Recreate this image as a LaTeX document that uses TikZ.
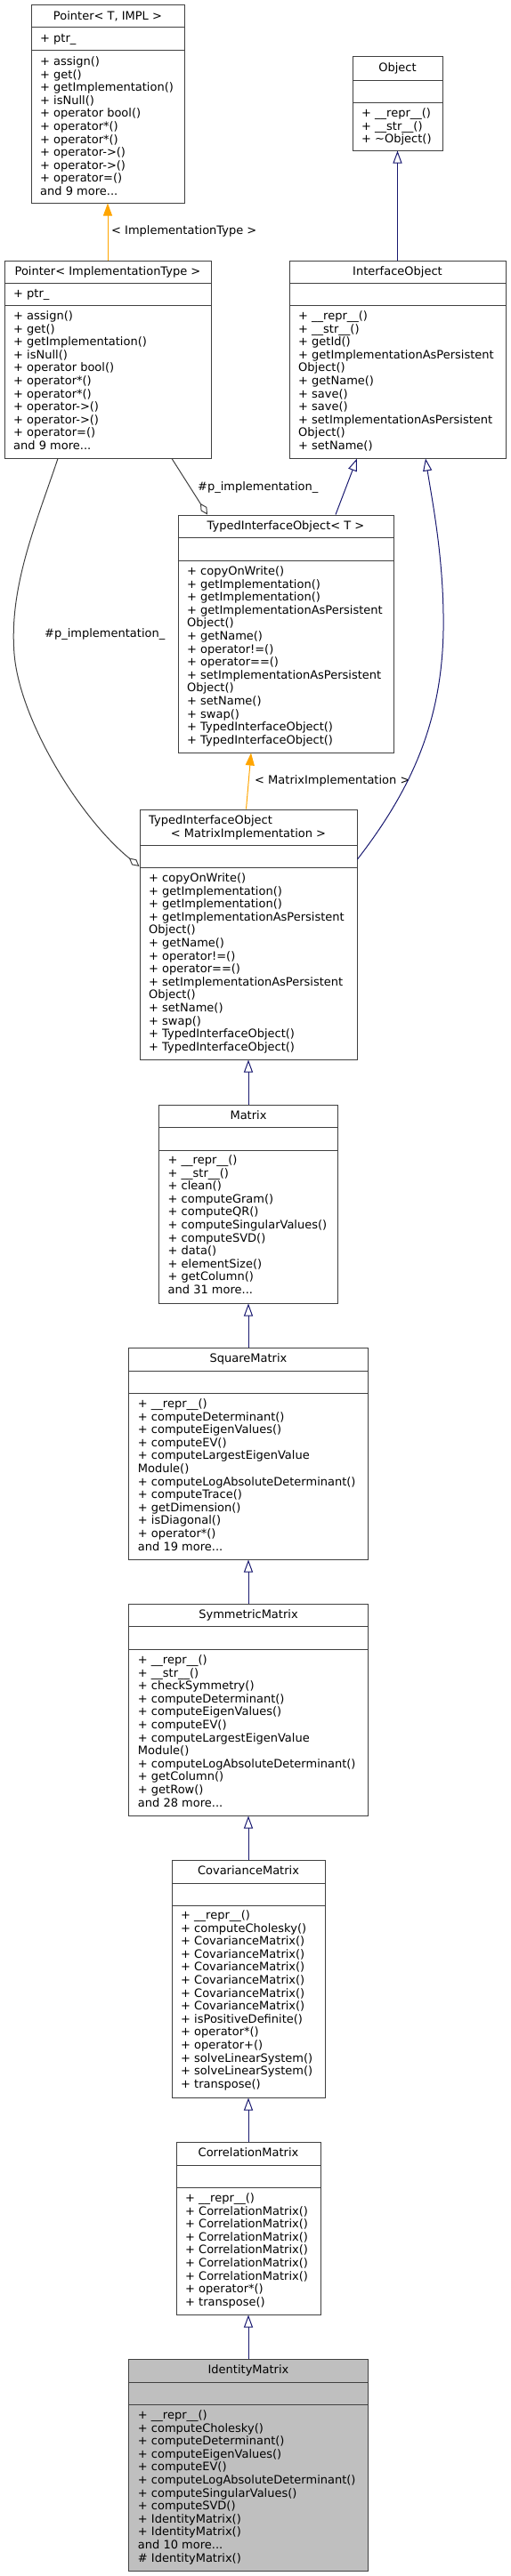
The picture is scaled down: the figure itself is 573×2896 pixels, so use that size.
\documentclass[tikz,border=0pt]{standalone}
\usepackage{fontspec}
\setmainfont{DejaVu Sans}
\usetikzlibrary{arrows.meta}
\definecolor{edgeblue}{HTML}{191970}
\definecolor{edgegray}{HTML}{404040}
\definecolor{boxgray}{HTML}{BFBFBF}
\definecolor{tmplorange}{HTML}{FFA500}
\tikzset{
  classbox/.style={draw=edgegray, line width=1pt, inner sep=0pt, fill=white},
  sepline/.style={draw=edgegray, line width=1pt},
  title/.style={anchor=base, inner sep=0pt},
  member/.style={anchor=base west, inner sep=0pt},
  inherit/.style={draw=edgeblue, line width=1pt, -{Triangle[open, length=14pt, width=10pt]}},
  template/.style={draw=tmplorange, line width=1pt, -{Triangle[length=14pt, width=10pt]}},
  aggr/.style={draw=edgegray, line width=1pt, -{Diamond[open, length=15pt, width=8pt]}},
  edgelabel/.style={anchor=base west, inner sep=0pt}
}
\begin{document}
\begin{tikzpicture}
    [x=1pt, y=-1pt, font=\fontsize{13}{14.6}\selectfont]
    \useasboundingbox (0,0) rectangle (573,2896);
    % Pointer< T, IMPL >
    \node[classbox, minimum width=172, minimum height=222] (ptrT) at (121,117) {};
    \draw[sepline] (ptrT.west |- 0,31) -- (ptrT.east |- 0,31)
      (ptrT.west |- 0,57) -- (ptrT.east |- 0,57);
    \node[title] (ptrT-title) at (121,22.5) {Pointer< T, IMPL >};
    \node[member] (ptrT-attr) at (45,47.5) {+ ptr\_};
    \foreach \m [count=\i from 0] in {+ assign(), + get(), + getImplementation(),
        + isNull(), + operator bool(), + operator*(), + operator*(), + operator->(),
        + operator->(), + operator=(), and 9 more.{}.{}.}
      \node[member] (ptrT-\i) at (45,73.5+14.6*\i) {\m};
    % Pointer< ImplementationType >
    \node[classbox, minimum width=232, minimum height=222] (ptrImpl) at (121,404) {};
    \draw[sepline] (ptrImpl.west |- 0,318) -- (ptrImpl.east |- 0,318)
      (ptrImpl.west |- 0,343) -- (ptrImpl.east |- 0,343);
    \node[title] (ptrImpl-title) at (121,309.5) {Pointer< ImplementationType >};
    \node[member] (ptrImpl-attr) at (15,334.5) {+ ptr\_};
    \foreach \m [count=\i from 0] in {+ assign(), + get(), + getImplementation(),
        + isNull(), + operator bool(), + operator*(), + operator*(), + operator->(),
        + operator->(), + operator=(), and 9 more.{}.{}.}
      \node[member] (ptrImpl-\i) at (15,359.5+14.6*\i) {\m};
    % Object
    \node[classbox, minimum width=101, minimum height=105] (object) at (446.5,116.5) {};
    \draw[sepline] (object.west |- 0,90) -- (object.east |- 0,90)
      (object.west |- 0,115) -- (object.east |- 0,115);
    \node[title] (object-title) at (446.5,80.5) {Object};
    \foreach \m [count=\i from 0] in {+ \_\_repr\_\_(), + \_\_str\_\_(), + \textasciitilde Object()}
      \node[member] (object-\i) at (406,131.5+14.6*\i) {\m};
    % InterfaceObject
    \node[classbox, minimum width=243, minimum height=222] (iface) at (446.5,404) {};
    \draw[sepline] (iface.west |- 0,318) -- (iface.east |- 0,318)
      (iface.west |- 0,343) -- (iface.east |- 0,343);
    \node[title] (iface-title) at (446.5,309.5) {InterfaceObject};
    \foreach \m [count=\i from 0] in {+ \_\_repr\_\_(), + \_\_str\_\_(), + getId(),
        + getImplementationAsPersistent, Object(), + getName(), + save(), + save(),
        + setImplementationAsPersistent, Object(), + setName()}
      \node[member] (iface-\i) at (335,359.5+14.6*\i) {\m};
    % TypedInterfaceObject< T >
    \node[classbox, minimum width=242, minimum height=267] (tioT) at (321,712.5) {};
    \draw[sepline] (tioT.west |- 0,604) -- (tioT.east |- 0,604)
      (tioT.west |- 0,630) -- (tioT.east |- 0,630);
    \node[title] (tioT-title) at (321,595.5) {TypedInterfaceObject< T >};
    \foreach \m [count=\i from 0] in {+ copyOnWrite(), + getImplementation(),
        + getImplementation(), + getImplementationAsPersistent, Object(), + getName(),
        + operator!=(), + operator==(), + setImplementationAsPersistent, Object(),
        + setName(), + swap(), + TypedInterfaceObject(), + TypedInterfaceObject()}
      \node[member] (tioT-\i) at (210,646.5+14.6*\i) {\m};
    % TypedInterfaceObject< MatrixImplementation >
    \node[classbox, minimum width=244, minimum height=281] (tioM) at (279,1050.5) {};
    \draw[sepline] (tioM.west |- 0,950) -- (tioM.east |- 0,950)
      (tioM.west |- 0,975) -- (tioM.east |- 0,975);
    \node[member] (tioM-title1) at (167,926.5) {TypedInterfaceObject};
    \node[title] (tioM-title2) at (279,941.1) {< MatrixImplementation >};
    \foreach \m [count=\i from 0] in {+ copyOnWrite(), + getImplementation(),
        + getImplementation(), + getImplementationAsPersistent, Object(), + getName(),
        + operator!=(), + operator==(), + setImplementationAsPersistent, Object(),
        + setName(), + swap(), + TypedInterfaceObject(), + TypedInterfaceObject()}
      \node[member] (tioM-\i) at (167,991.5+14.6*\i) {\m};
    % Matrix
    \node[classbox, minimum width=201, minimum height=223] (matrix) at (279,1353.5) {};
    \draw[sepline] (matrix.west |- 0,1267) -- (matrix.east |- 0,1267)
      (matrix.west |- 0,1293) -- (matrix.east |- 0,1293);
    \node[title] (matrix-title) at (279,1258.5) {Matrix};
    \foreach \m [count=\i from 0] in {+ \_\_repr\_\_(), + \_\_str\_\_(), + clean(),
        + computeGram(), + computeQR(), + computeSingularValues(), + computeSVD(),
        + data(), + elementSize(), + getColumn(), and 31 more.{}.{}.}
      \node[member] (matrix-\i) at (188.5,1308.5+14.6*\i) {\m};
    % SquareMatrix
    \node[classbox, minimum width=268.5, minimum height=238] (square) at (279,1634) {};
    \draw[sepline] (square.west |- 0,1541) -- (square.east |- 0,1541)
      (square.west |- 0,1566) -- (square.east |- 0,1566);
    \node[title] (square-title) at (279,1531.5) {SquareMatrix};
    \foreach \m [count=\i from 0] in {+ \_\_repr\_\_(), + computeDeterminant(),
        + computeEigenValues(), + computeEV(), + computeLargestEigenValue, Module(),
        + computeLogAbsoluteDeterminant(), + computeTrace(), + getDimension(),
        + isDiagonal(), + operator*(), and 19 more.{}.{}.}
      \node[member] (square-\i) at (154.75,1582.5+14.6*\i) {\m};
    % SymmetricMatrix
    \node[classbox, minimum width=268.5, minimum height=238] (symm) at (279,1922) {};
    \draw[sepline] (symm.west |- 0,1828) -- (symm.east |- 0,1828)
      (symm.west |- 0,1854) -- (symm.east |- 0,1854);
    \node[title] (symm-title) at (279,1819.5) {SymmetricMatrix};
    \foreach \m [count=\i from 0] in {+ \_\_repr\_\_(), + \_\_str\_\_(), + checkSymmetry(),
        + computeDeterminant(), + computeEigenValues(), + computeEV(),
        + computeLargestEigenValue, Module(), + computeLogAbsoluteDeterminant(),
        + getColumn(), + getRow(), and 28 more.{}.{}.}
      \node[member] (symm-\i) at (154.75,1870.5+14.6*\i) {\m};
    % CovarianceMatrix
    \node[classbox, minimum width=172, minimum height=267] (cov) at (279,2224.5) {};
    \draw[sepline] (cov.west |- 0,2117) -- (cov.east |- 0,2117)
      (cov.west |- 0,2142) -- (cov.east |- 0,2142);
    \node[title] (cov-title) at (279,2107.5) {CovarianceMatrix};
    \foreach \m [count=\i from 0] in {+ \_\_repr\_\_(), + computeCholesky(),
        + CovarianceMatrix(), + CovarianceMatrix(), + CovarianceMatrix(),
        + CovarianceMatrix(), + CovarianceMatrix(), + CovarianceMatrix(),
        + isPositiveDefinite(), + operator*(), + operator+(), + solveLinearSystem(),
        + solveLinearSystem(), + transpose()}
      \node[member] (cov-\i) at (203,2157.5+14.6*\i) {\m};
    % CorrelationMatrix
    \node[classbox, minimum width=162, minimum height=194] (corr) at (279,2505) {};
    \draw[sepline] (corr.west |- 0,2434) -- (corr.east |- 0,2434)
      (corr.west |- 0,2459) -- (corr.east |- 0,2459);
    \node[title] (corr-title) at (279,2424.5) {CorrelationMatrix};
    \foreach \m [count=\i from 0] in {+ \_\_repr\_\_(), + CorrelationMatrix(),
        + CorrelationMatrix(), + CorrelationMatrix(), + CorrelationMatrix(),
        + CorrelationMatrix(), + CorrelationMatrix(), + operator*(), + transpose()}
      \node[member] (corr-\i) at (208,2475.5+14.6*\i) {\m};
    % IdentityMatrix
    \node[classbox, fill=boxgray, minimum width=268.5, minimum height=238] (ident) at (279,2771) {};
    \draw[sepline] (ident.west |- 0,2678) -- (ident.east |- 0,2678)
      (ident.west |- 0,2703) -- (ident.east |- 0,2703);
    \node[title] (ident-title) at (279,2668.5) {IdentityMatrix};
    \foreach \m [count=\i from 0] in {+ \_\_repr\_\_(), + computeCholesky(),
        + computeDeterminant(), + computeEigenValues(), + computeEV(),
        + computeLogAbsoluteDeterminant(), + computeSingularValues(), + computeSVD(),
        + IdentityMatrix(), + IdentityMatrix(), and 10 more.{}.{}., \# IdentityMatrix()}
      \node[member] (ident-\i) at (154.75,2719.5+14.6*\i) {\m};
    % relations
    \draw[template] (ptrImpl.north) -- (ptrT.south);
    \node[edgelabel] (lbl-impltype) at (125,263.5) {< ImplementationType >};
    \draw[inherit] (iface.north) -- (object.south);
    \draw[inherit] (tioT.north -| 377,0) -- (iface.south -| 401,0);
    \draw[aggr] (ptrImpl.south -| 193,0) -- (tioT.north -| 233,0);
    \node[edgelabel] (lbl-pimpl1) at (222,551.5) {\#p\_implementation\_};
    \draw[template] (tioM.north -| 276.5,0) -- (tioT.south -| 282,0);
    \node[edgelabel] (lbl-matimpl) at (286,881.5) {< MatrixImplementation >};
    \draw[aggr] (ptrImpl.south -| 65,0) .. controls (40,590) and (10,660) .. (16,735)
      .. controls (22,810) and (90,920) .. (tioM.west |- 0,974);
    \node[edgelabel] (lbl-pimpl2) at (50,716.5) {\#p\_implementation\_};
    \draw[inherit] (tioM.east |- 0,966) .. controls (468,880) and (500,800) .. (498,690)
      .. controls (497,620) and (485,560) .. (iface.south -| 478,0);
    \draw[inherit] (matrix.north) -- (tioM.south);
    \draw[inherit] (square.north) -- (matrix.south);
    \draw[inherit] (symm.north) -- (square.south);
    \draw[inherit] (cov.north) -- (symm.south);
    \draw[inherit] (corr.north) -- (cov.south);
    \draw[inherit] (ident.north) -- (corr.south);
  \end{tikzpicture}
\end{document}
